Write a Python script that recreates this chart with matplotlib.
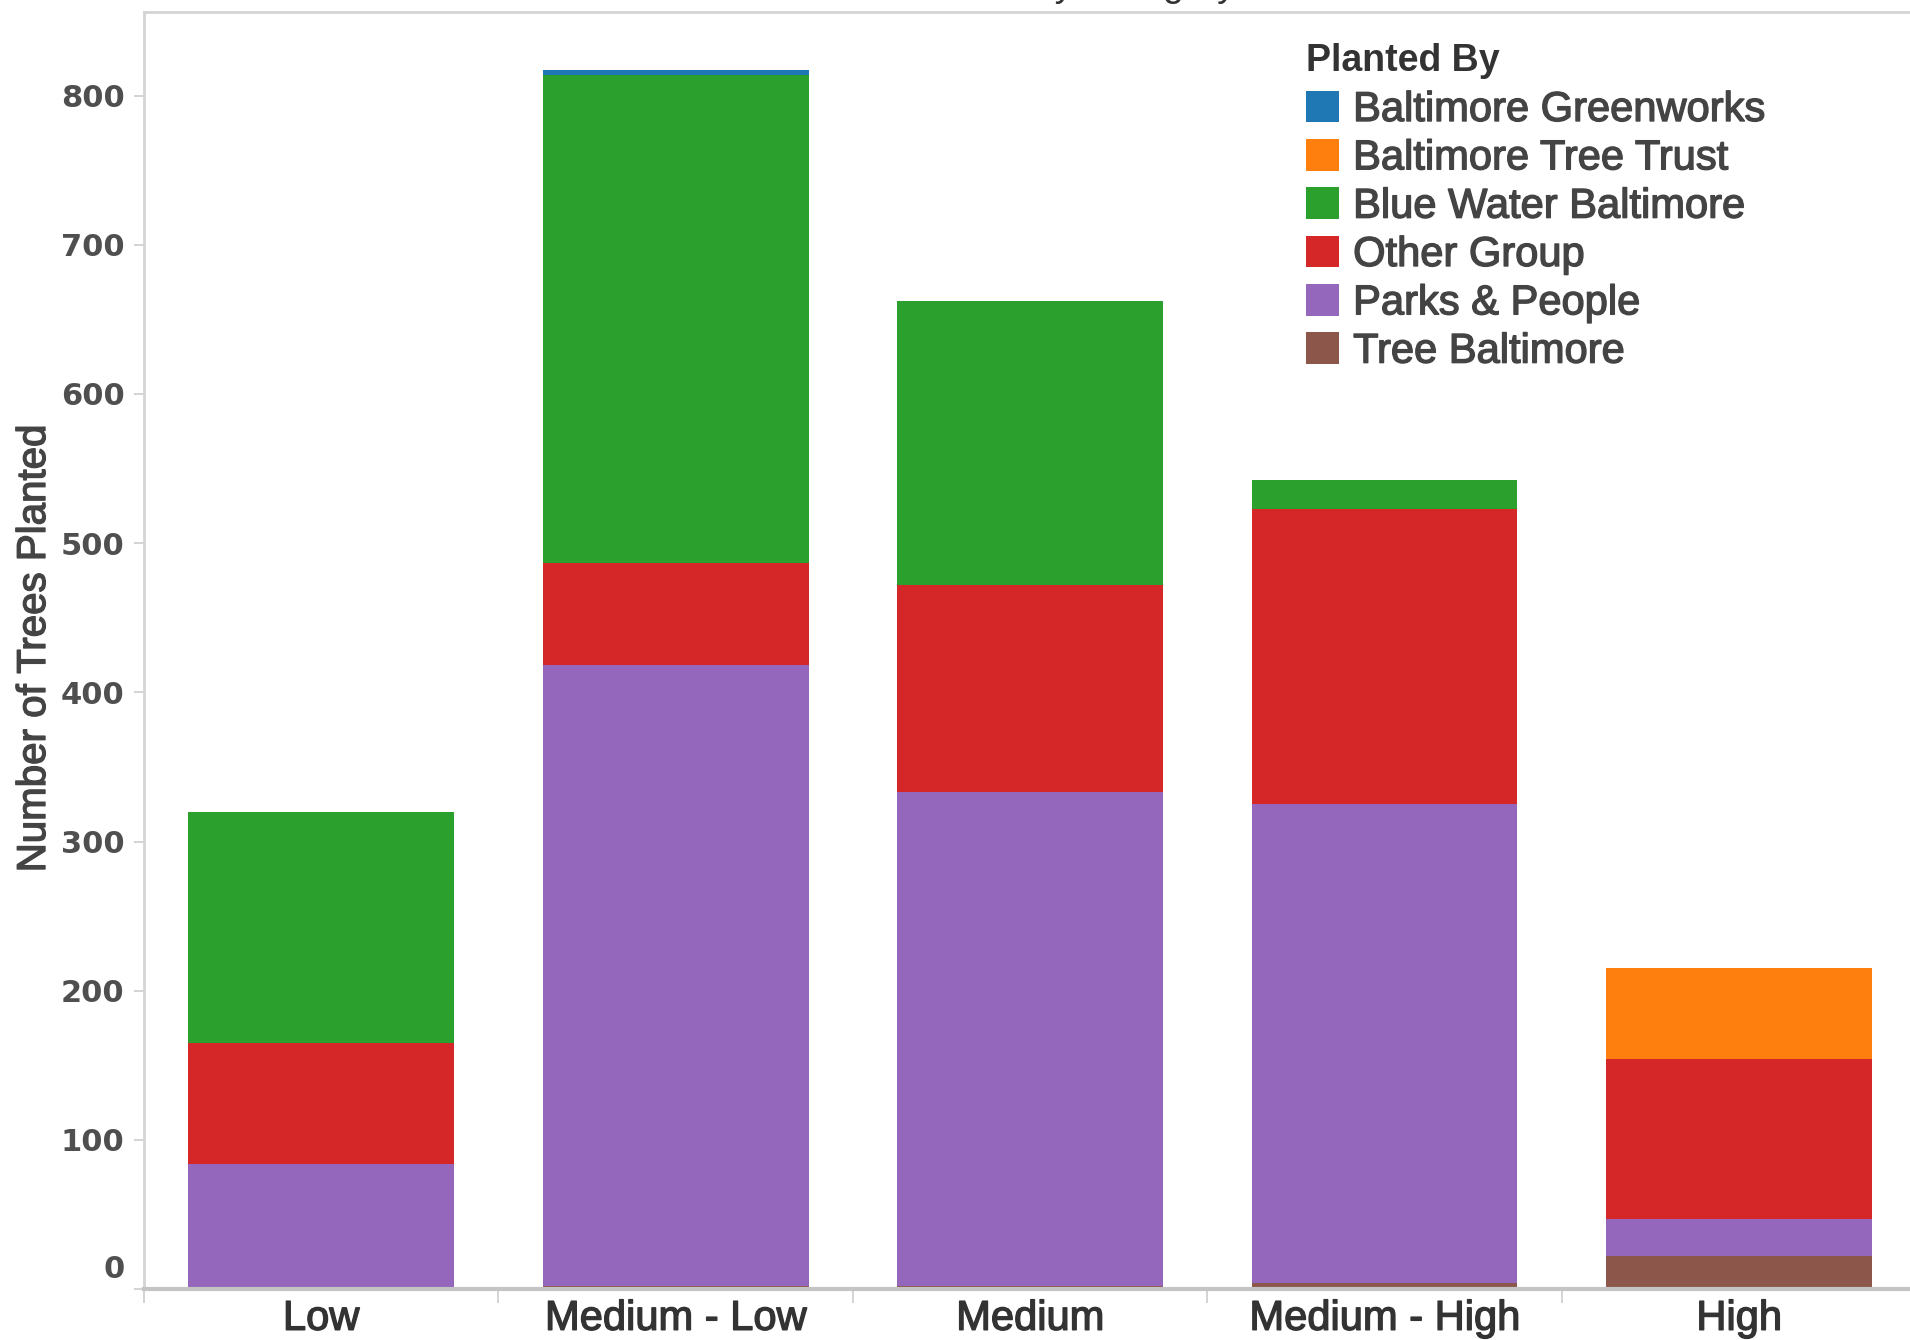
import matplotlib
matplotlib.use("Agg")
import matplotlib.pyplot as plt
import matplotlib.transforms as mtransforms
import matplotlib.patheffects as pe
import numpy as np

plt.rcParams['font.family'] = ['Liberation Sans', 'DejaVu Sans']

# categories along x
categories = ["Low", "Medium - Low", "Medium", "Medium - High", "High"]

# trees planted per group, stacked bottom -> top
tree_baltimore = [0, 2, 2, 4, 22]
parks_people = [84, 416, 331, 321, 25]
other_group = [81, 69, 139, 198, 107]
blue_water = [155, 327, 190, 19, 0]
tree_trust = [0, 0, 0, 0, 61]
greenworks = [0, 3, 0, 0, 0]

legend_order = ["Baltimore Greenworks", "Baltimore Tree Trust", "Blue Water Baltimore",
                "Other Group", "Parks & People", "Tree Baltimore"]
colors = {
    "Baltimore Greenworks": "#1f77b4",
    "Baltimore Tree Trust": "#ff7f0e",
    "Blue Water Baltimore": "#2ca02c",
    "Other Group": "#d62728",
    "Parks & People": "#9467bd",
    "Tree Baltimore": "#8c564b",
}
stack = [
    ("Tree Baltimore", tree_baltimore),
    ("Parks & People", parks_people),
    ("Other Group", other_group),
    ("Blue Water Baltimore", blue_water),
    ("Baltimore Tree Trust", tree_trust),
    ("Baltimore Greenworks", greenworks),
]


def thick(color, w=1.0):
    # the original text looks a bit heavier than plain regular
    return [pe.withStroke(linewidth=w, foreground=color)]


fig = plt.figure(figsize=(19.1, 13.4), dpi=100)
ax = fig.add_axes([0.0753, 0.038, 0.928, 0.953])

x = np.arange(len(categories))
bottom = np.zeros(len(categories))
handles = {}
for name, vals in stack:
    vals = np.array(vals, dtype=float)
    b = ax.bar(x, vals, bottom=bottom, width=0.75, color=colors[name],
               label=name, linewidth=0)
    handles[name] = b
    bottom += vals

ax.set_xlim(-0.5, len(categories) - 0.5)
ax.set_ylim(0, 856)

# x axis: labels at centres, tick marks at category borders
ax.set_xticks(x)
ax.set_xticklabels(categories, fontsize=30, color="#333333")
ax.tick_params(axis="x", which="major", length=0, pad=7)
ax.set_xticks(np.arange(-0.5, len(categories)), minor=True)
ax.tick_params(axis="x", which="minor", length=10, width=1.2, color="#cccccc")
for lab in ax.get_xticklabels():
    lab.set_path_effects(thick("#333333"))

# y axis
ax.set_yticks(np.arange(0, 801, 100))
ax.tick_params(axis="y", length=7, width=1.2, color="#cccccc", pad=7)
for lab in ax.get_yticklabels():
    lab.set_fontfamily("DejaVu Sans")
    lab.set_fontweight("bold")
    lab.set_fontsize(22)
    lab.set_color("#4f4f4f")
# "0" sits a little higher, as in the original
zero = ax.get_yticklabels()[0]
zero.set_transform(zero.get_transform() +
                   mtransforms.ScaledTranslation(0, 16 / 72, fig.dpi_scale_trans))

ax.set_ylabel("Number of Trees Planted", fontsize=29, color="#444444")
ax.yaxis.set_label_coords(0.0178, 0.516, transform=fig.transFigure)
ax.yaxis.label.set_va("center")
ax.yaxis.label.set_path_effects(thick("#444444"))

for side in ["left", "top"]:
    ax.spines[side].set_color("#d4d4d4")
    ax.spines[side].set_linewidth(2)
ax.spines["bottom"].set_color("#c4c4c4")
ax.spines["bottom"].set_linewidth(3)
ax.spines["right"].set_visible(False)

leg = ax.legend([handles[n] for n in legend_order], legend_order,
                title="Planted By", loc="upper left",
                bbox_to_anchor=(0.684, 0.968), bbox_transform=fig.transFigure,
                frameon=False, fontsize=30, handlelength=0.77, handleheight=0.8,
                handletextpad=0.35, labelspacing=0.2, borderpad=0, borderaxespad=0,
                alignment="left",
                title_fontproperties={"size": 27, "weight": "bold"})
leg.get_title().set_color("#333333")
leg._legend_box.sep = 8
for t in leg.get_texts():
    t.set_color("#444444")
    t.set_path_effects(thick("#444444"))

# title, mostly cut off at the top edge of the picture
fig.text(0.647, 1.003, "Trees Planted by Category", ha="right", va="baseline",
         fontsize=27, color="#333333")

fig.savefig("out.png", dpi=100)
